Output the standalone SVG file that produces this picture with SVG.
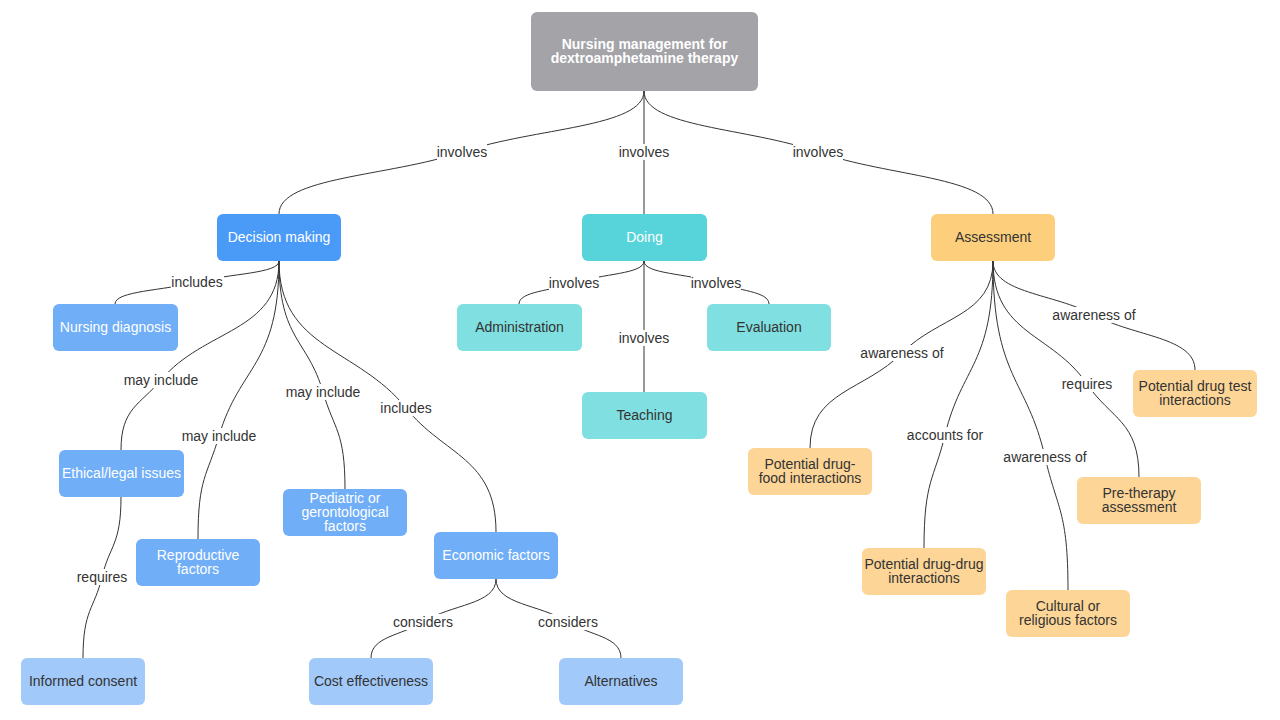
<svg xmlns="http://www.w3.org/2000/svg" width="1280" height="720" viewBox="0 0 1280 720">
<style>
.n rect{rx:6;ry:6}
.t{font-family:"Liberation Sans",Arial,sans-serif;font-size:14px;text-anchor:middle}
.w{fill:#ffffff}
.d{fill:#333333}
.root{fill:#A3A3A8}
.b1{fill:#4A9AF8}.b2{fill:#70AEF8}.b3{fill:#A1C9FA}
.c1{fill:#57D4D9}.c2{fill:#80DFE0}
.o1{fill:#FDCF7D}.o2{fill:#FDD597}
#edges path{fill:none;stroke:#333333;stroke-width:1}
.lb rect{fill:#ffffff}
.lb text{font-family:"Liberation Sans",Arial,sans-serif;font-size:14px;text-anchor:middle;fill:#333333}
</style>
<rect width="1280" height="720" fill="#ffffff"/>
<g id="edges">
<path d="M644,91 C644,127.6 534.8,127.5 462,152 C388.7,176.7 279,176.8 279,214"/>
<path d="M644,91 L644,214"/>
<path d="M644,91 C644,127.6 748.4,127.5 818,152 C888,176.7 993,176.8 993,214"/>
<path d="M279,261 C279,273.6 229.7,273.4 197,282 C164.2,290.6 115,290.8 115,304"/>
<path d="M279,261 C279,332.4 204,328.6 161,380 C140.3,404.7 121,408 121,450"/>
<path d="M279,261 C279,366 239.7,365 219,436 C207.2,476.3 198,477.2 198,539"/>
<path d="M279,261 C279,339.6 307.6,338.9 323,392 C334.1,430.2 345,430.8 345,489"/>
<path d="M279,261 C279,349.2 357.4,347.3 406,408 C444.3,455.9 496,457.6 496,532"/>
<path d="M121,497 C121,545 109.6,545 102,577 C94.3,609.4 83,609.4 83,658"/>
<path d="M496,579 C496,604.8 451.6,603.9 423,622 C401.6,635.5 371,636.4 371,658"/>
<path d="M496,579 C496,604.8 539.6,604.1 568,622 C589.7,635.7 621,636.4 621,658"/>
<path d="M644,261 C644,274.2 601.8,273.5 574,283 C551.7,290.7 519,291.4 519,304"/>
<path d="M644,261 C644,274.2 687.5,273.2 716,283 C737.6,290.4 769,291.4 769,304"/>
<path d="M644,261 L644,392"/>
<path d="M993,261 C993,316.2 938.2,316 902,353 C865,390.8 810,391 810,448"/>
<path d="M993,261 C993,365.4 961.9,364.8 945,435 C934.2,479.7 924,480.2 924,548"/>
<path d="M993,261 C993,378.6 1027,377.9 1045,457 C1057,509.7 1068,510.2 1068,590"/>
<path d="M993,261 C993,334.8 1052.3,332.7 1087,384 C1110.9,419.3 1139,421.2 1139,477"/>
<path d="M993,261 C993,293.4 1053.7,293.2 1094,315 C1134.5,336.9 1195,337 1195,370"/>
<g class="lb">
<rect x="437" y="144" width="50" height="16"/><text x="462" y="157">involves</text>
<rect x="619" y="144" width="50" height="16"/><text x="644" y="157">involves</text>
<rect x="793" y="144" width="50" height="16"/><text x="818" y="157">involves</text>
<rect x="171" y="274" width="53" height="16"/><text x="197" y="287">includes</text>
<rect x="123" y="372" width="76" height="16"/><text x="161" y="385">may include</text>
<rect x="181" y="428" width="76" height="16"/><text x="219" y="441">may include</text>
<rect x="285" y="384" width="76" height="16"/><text x="323" y="397">may include</text>
<rect x="380" y="400" width="53" height="16"/><text x="406" y="413">includes</text>
<rect x="76" y="569" width="53" height="16"/><text x="102" y="582">requires</text>
<rect x="392" y="614" width="62" height="16"/><text x="423" y="627">considers</text>
<rect x="537" y="614" width="62" height="16"/><text x="568" y="627">considers</text>
<rect x="549" y="275" width="50" height="16"/><text x="574" y="288">involves</text>
<rect x="691" y="275" width="50" height="16"/><text x="716" y="288">involves</text>
<rect x="619" y="330" width="50" height="16"/><text x="644" y="343">involves</text>
<rect x="860" y="345" width="84" height="16"/><text x="902" y="358">awareness of</text>
<rect x="905" y="427" width="79" height="16"/><text x="945" y="440">accounts for</text>
<rect x="1003" y="449" width="84" height="16"/><text x="1045" y="462">awareness of</text>
<rect x="1060" y="376" width="53" height="16"/><text x="1087" y="389">requires</text>
<rect x="1052" y="307" width="84" height="16"/><text x="1094" y="320">awareness of</text>
</g>
</g>
<g id="root" class="n"><rect class="root" x="531" y="12" width="227" height="79"/><text class="t w" font-weight="bold" font-size="13.7" x="644.5" y="49">Nursing management for</text><text class="t w" font-weight="bold" font-size="13.7" x="644.5" y="63">dextroamphetamine therapy</text></g>
<g id="decision" class="n"><rect class="b1" x="217" y="214" width="124" height="47"/><text class="t w" x="279" y="242">Decision making</text></g>
<g id="doing" class="n"><rect class="c1" x="582" y="214" width="125" height="47"/><text class="t w" x="644.5" y="242">Doing</text></g>
<g id="assessment" class="n"><rect class="o1" x="931" y="214" width="124" height="47"/><text class="t d" x="993" y="242">Assessment</text></g>
<g id="nursing-diagnosis" class="n"><rect class="b2" x="53" y="304" width="125" height="47"/><text class="t w" x="115.5" y="332">Nursing diagnosis</text></g>
<g id="ethical" class="n"><rect class="b2" x="59" y="450" width="125" height="47"/><text class="t w" x="121.5" y="478">Ethical/legal issues</text></g>
<g id="reproductive" class="n"><rect class="b2" x="136" y="539" width="124" height="47"/><text class="t w" x="198" y="560">Reproductive</text><text class="t w" x="198" y="574">factors</text></g>
<g id="pediatric" class="n"><rect class="b2" x="283" y="489" width="124" height="47"/><text class="t w" x="345" y="503">Pediatric or</text><text class="t w" x="345" y="517">gerontological</text><text class="t w" x="345" y="531">factors</text></g>
<g id="economic" class="n"><rect class="b2" x="434" y="532" width="124" height="47"/><text class="t w" x="496" y="560">Economic factors</text></g>
<g id="informed-consent" class="n"><rect class="b3" x="21" y="658" width="124" height="47"/><text class="t d" x="83" y="686">Informed consent</text></g>
<g id="cost" class="n"><rect class="b3" x="309" y="658" width="124" height="47"/><text class="t d" x="371" y="686">Cost effectiveness</text></g>
<g id="alternatives" class="n"><rect class="b3" x="559" y="658" width="124" height="47"/><text class="t d" x="621" y="686">Alternatives</text></g>
<g id="administration" class="n"><rect class="c2" x="457" y="304" width="125" height="47"/><text class="t d" x="519.5" y="332">Administration</text></g>
<g id="evaluation" class="n"><rect class="c2" x="707" y="304" width="124" height="47"/><text class="t d" x="769" y="332">Evaluation</text></g>
<g id="teaching" class="n"><rect class="c2" x="582" y="392" width="125" height="47"/><text class="t d" x="644.5" y="420">Teaching</text></g>
<g id="drug-food" class="n"><rect class="o2" x="748" y="448" width="124" height="47"/><text class="t d" x="810" y="469">Potential drug-</text><text class="t d" x="810" y="483">food interactions</text></g>
<g id="drug-drug" class="n"><rect class="o2" x="862" y="548" width="124" height="47"/><text class="t d" x="924" y="569">Potential drug-drug</text><text class="t d" x="924" y="583">interactions</text></g>
<g id="cultural" class="n"><rect class="o2" x="1006" y="590" width="124" height="47"/><text class="t d" x="1068" y="611">Cultural or</text><text class="t d" x="1068" y="625">religious factors</text></g>
<g id="pre-therapy" class="n"><rect class="o2" x="1077" y="477" width="124" height="47"/><text class="t d" x="1139" y="498">Pre-therapy</text><text class="t d" x="1139" y="512">assessment</text></g>
<g id="drug-test" class="n"><rect class="o2" x="1133" y="370" width="124" height="47"/><text class="t d" x="1195" y="391">Potential drug test</text><text class="t d" x="1195" y="405">interactions</text></g>
</svg>
